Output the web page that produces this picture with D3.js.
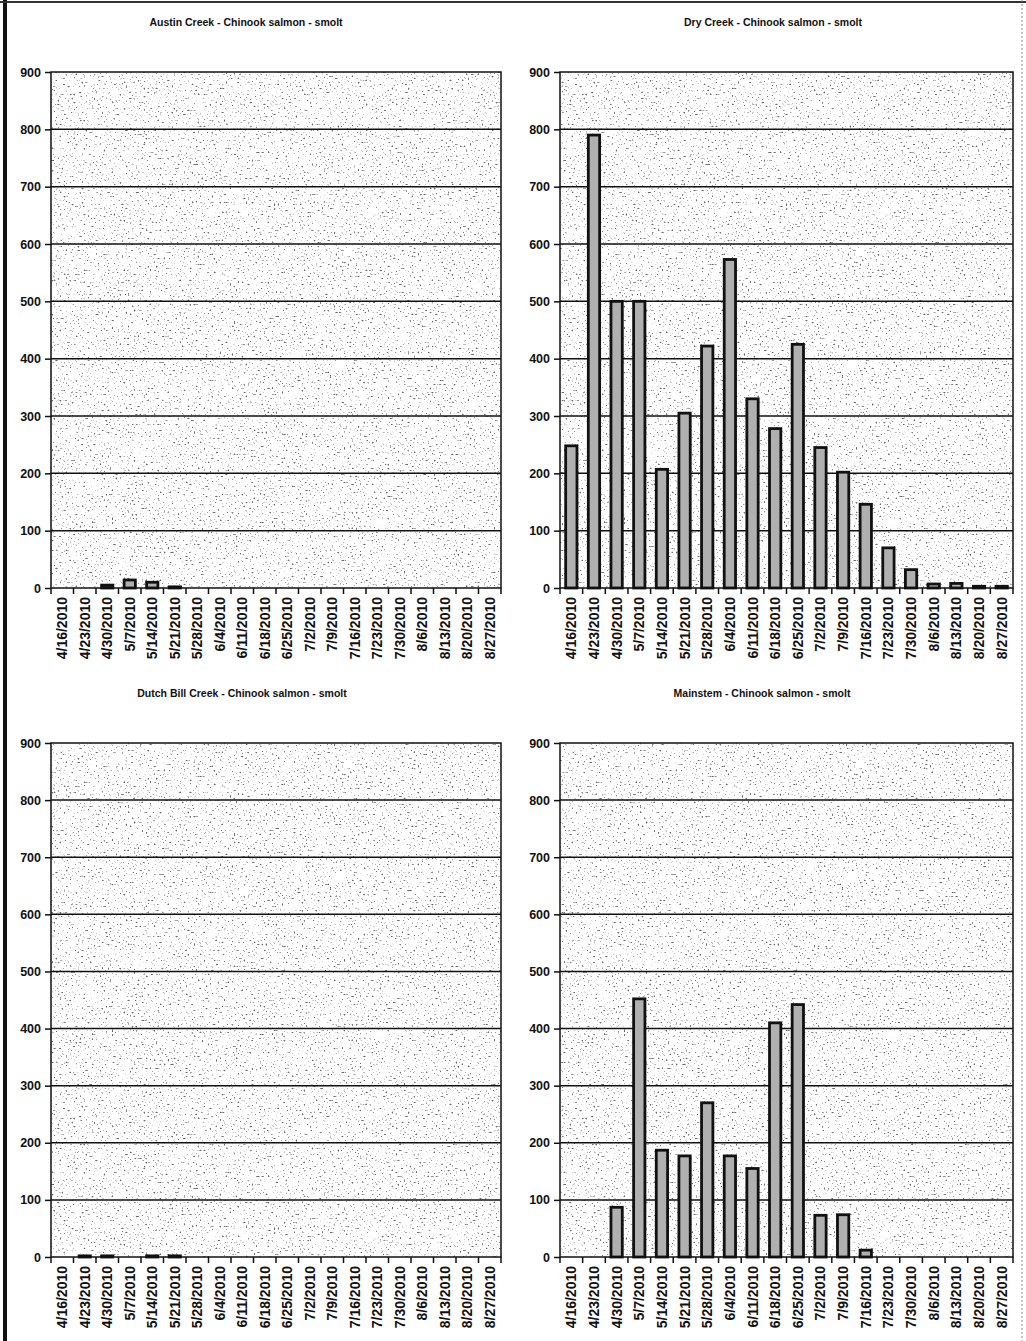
<!DOCTYPE html>
<html>
<head>
<meta charset="utf-8">
<script src="https://cdn.jsdelivr.net/npm/d3@7"></script>
<style>
  body { margin: 0; background: #fff; }
  svg { display: block; }
</style>
</head>
<body>
<svg></svg>
<script>
const width = 1026;
const height = 1341;

// данные
const dates = ["4/16/2010", "4/23/2010", "4/30/2010", "5/7/2010", "5/14/2010", "5/21/2010",
    "5/28/2010", "6/4/2010", "6/11/2010", "6/18/2010", "6/25/2010", "7/2/2010", "7/9/2010",
    "7/16/2010", "7/23/2010", "7/30/2010", "8/6/2010", "8/13/2010", "8/20/2010", "8/27/2010"];

const austinCreek = [0, 0, 5, 14, 10, 2, 0, 0, 0, 0, 0, 0, 0, 0, 0, 0, 0, 0, 0, 0];
const dryCreek = [248, 790, 500, 500, 207, 305, 422, 573, 330, 278, 425, 245, 202, 146, 70, 32, 7, 8, 3, 3];
const dutchBillCreek = [0, 2, 2, 0, 2, 2, 0, 0, 0, 0, 0, 0, 0, 0, 0, 0, 0, 0, 0, 0];
const mainstem = [0, 0, 87, 452, 187, 177, 270, 177, 155, 410, 442, 73, 74, 12, 0, 0, 0, 0, 0, 0];

const titles = ["Austin Creek - Chinook salmon - smolt", "Dry Creek - Chinook salmon - smolt",
    "Dutch Bill Creek - Chinook salmon - smolt", "Mainstem - Chinook salmon - smolt"];
const yTicks = [0, 100, 200, 300, 400, 500, 600, 700, 800, 900];

const panels = [
    { title: titles[0], values: austinCreek, left: 51, right: 501, top: 72, bottom: 588, titleX: 246 },
    { title: titles[1], values: dryCreek, left: 560, right: 1013, top: 72, bottom: 588, titleX: 773 },
    { title: titles[2], values: dutchBillCreek, left: 51, right: 501, top: 743, bottom: 1257, titleX: 242 },
    { title: titles[3], values: mainstem, left: 560, right: 1013, top: 743, bottom: 1257, titleX: 762 }
];

let svg = d3.select("svg")
     .attr("width", width)
     .attr("height", height);

// шум как на скане
let defs = svg.append("defs");
let filter = defs.append("filter")
     .attr("id", "speckle")
     .attr("x", 0).attr("y", 0).attr("width", 1).attr("height", 1);
filter.append("feTurbulence")
     .attr("type", "fractalNoise")
     .attr("baseFrequency", 0.5)
     .attr("numOctaves", 2)
     .attr("seed", 7)
     .attr("result", "n");
filter.append("feColorMatrix")
     .attr("in", "n")
     .attr("type", "matrix")
     .attr("values", "0 0 0 0 0.15  0 0 0 0 0.15  0 0 0 0 0.15  -9 0 0 0 3.3")
     .attr("result", "dots");
filter.append("feComposite")
     .attr("in", "dots")
     .attr("in2", "SourceGraphic")
     .attr("operator", "over");

// рамка страницы
svg.append("line").attr("x1", 5).attr("x2", 5).attr("y1", 0).attr("y2", 1341)
     .attr("stroke", "#111").attr("stroke-width", 4);
svg.append("line").attr("x1", 0).attr("x2", 1026).attr("y1", 2).attr("y2", 2)
     .attr("stroke", "#333").attr("stroke-width", 2);
svg.append("line").attr("x1", 1022).attr("x2", 1022).attr("y1", 0).attr("y2", 1341)
     .attr("stroke", "#888").attr("stroke-width", 1).attr("stroke-dasharray", "2,2");

function drawPanel(p) {
    let g = svg.append("g");

    let scX = d3.scaleBand()
         .domain(dates)
         .range([p.left, p.right])
         .paddingInner(0.5)
         .paddingOuter(0.25);

    let scY = d3.scaleLinear()
         .domain([0, 900])
         .range([p.bottom, p.top]);

    g.append("rect")
     .attr("x", p.left)
     .attr("y", p.top)
     .attr("width", p.right - p.left)
     .attr("height", p.bottom - p.top)
     .attr("fill", "#fff")
     .attr("filter", "url(#speckle)");

    // сетка
    g.selectAll(".grid")
     .data(yTicks.slice(1, -1))
     .enter()
     .append("line")
     .attr("x1", p.left)
     .attr("x2", p.right)
     .attr("y1", d => scY(d))
     .attr("y2", d => scY(d))
     .attr("stroke", "#111")
     .attr("stroke-width", 1.5);

    // столбцы
    let barData = dates.map((d, i) => ({ date: d, value: p.values[i] })).filter(d => d.value > 0);
    g.selectAll(".bar")
     .data(barData)
     .enter()
     .append("rect")
     .attr("x", d => scX(d.date))
     .attr("width", scX.bandwidth())
     .attr("y", d => scY(d.value))
     .attr("height", d => p.bottom - scY(d.value))
     .attr("fill", "#b0b0b0")
     .attr("stroke", "#111")
     .attr("stroke-width", 2.8);

    g.append("rect")
     .attr("x", p.left)
     .attr("y", p.top)
     .attr("width", p.right - p.left)
     .attr("height", p.bottom - p.top)
     .attr("fill", "none")
     .attr("stroke", "#111")
     .attr("stroke-width", 1.5);

    // оси
    let axisY = d3.axisLeft(scY).tickValues(yTicks).tickSize(6).tickPadding(4);
    let gy = g.append("g")
     .attr("transform", `translate(${p.left}, 0)`)
     .call(axisY);
    gy.select(".domain").remove();
    gy.selectAll("line").attr("stroke", "#111").attr("stroke-width", 1.5);
    gy.selectAll("text")
     .style("font-family", "'Liberation Sans', Arial, sans-serif")
     .style("font-weight", "bold")
     .style("font-size", "12.5px")
     .attr("fill", "#111");

    // деления между категориями
    let step = scX.step();
    let edges = d3.range(dates.length + 1).map(i => scX(dates[0]) - scX.paddingOuter() * step + i * step);
    g.selectAll(".xtick")
     .data(edges)
     .enter()
     .append("line")
     .attr("x1", d => d)
     .attr("x2", d => d)
     .attr("y1", p.bottom)
     .attr("y2", p.bottom + 6)
     .attr("stroke", "#111")
     .attr("stroke-width", 1.5);

    g.selectAll(".xlabel")
     .data(dates)
     .enter()
     .append("text")
     .attr("transform", d => `translate(${scX(d) + scX.bandwidth() / 2 + 5}, ${p.bottom + 9}) rotate(-90)`)
     .attr("text-anchor", "end")
     .style("font-family", "'Liberation Sans', Arial, sans-serif")
     .style("font-weight", "bold")
     .style("font-size", "14px")
     .attr("fill", "#111")
     .text(d => d);

    g.append("text")
     .attr("x", p.titleX)
     .attr("y", p.top - 46)
     .attr("text-anchor", "middle")
     .style("font-family", "'Liberation Sans', Arial, sans-serif")
     .style("font-weight", "bold")
     .style("font-size", "10.5px")
     .attr("fill", "#111")
     .text(p.title);
}

panels.forEach(drawPanel);
</script>
</body>
</html>
